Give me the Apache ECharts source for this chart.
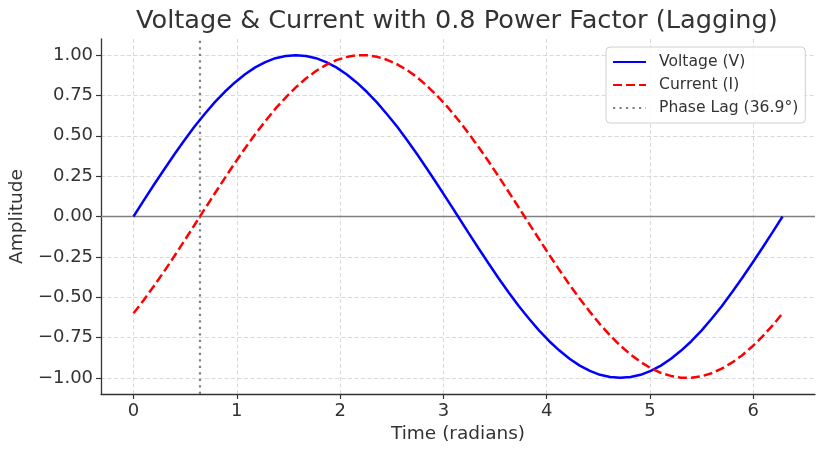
<!DOCTYPE html>
<html><head><meta charset="utf-8">
<script src="https://cdn.jsdelivr.net/npm/echarts@6/dist/echarts.min.js"></script>
<style>html,body{margin:0;padding:0;background:#fff}#c{width:832px;height:450px}</style>
</head><body><div id="c"></div>
<script>
// Time samples (radians) read along the x axis
const timeRad = [0, 0.098, 0.196, 0.295, 0.393, 0.491, 0.589, 0.687, 0.785, 0.884, 0.982, 1.080, 1.178, 1.276, 1.374, 1.473, 1.571, 1.669, 1.767, 1.865, 1.963, 2.062, 2.160, 2.258, 2.356, 2.454, 2.553, 2.651, 2.749, 2.847, 2.945, 3.043, 3.142, 3.240, 3.338, 3.436, 3.534, 3.632, 3.731, 3.829, 3.927, 4.025, 4.123, 4.221, 4.320, 4.418, 4.516, 4.614, 4.712, 4.811, 4.909, 5.007, 5.105, 5.203, 5.301, 5.400, 5.498, 5.596, 5.694, 5.792, 5.890, 5.989, 6.087, 6.185, 6.283];
const voltage = [0, 0.098, 0.195, 0.290, 0.383, 0.471, 0.556, 0.634, 0.707, 0.773, 0.831, 0.882, 0.924, 0.957, 0.981, 0.995, 1.000, 0.995, 0.981, 0.957, 0.924, 0.882, 0.831, 0.773, 0.707, 0.634, 0.556, 0.471, 0.383, 0.290, 0.195, 0.098, 0, -0.098, -0.195, -0.290, -0.383, -0.471, -0.556, -0.634, -0.707, -0.773, -0.831, -0.882, -0.924, -0.957, -0.981, -0.995, -1.000, -0.995, -0.981, -0.957, -0.924, -0.882, -0.831, -0.773, -0.707, -0.634, -0.556, -0.471, -0.383, -0.290, -0.195, -0.098, 0];
const current = [-0.600, -0.519, -0.432, -0.342, -0.248, -0.152, -0.054, 0.044, 0.141, 0.238, 0.332, 0.423, 0.510, 0.591, 0.668, 0.737, 0.800, 0.855, 0.902, 0.940, 0.969, 0.988, 0.999, 0.999, 0.990, 0.971, 0.943, 0.906, 0.861, 0.806, 0.745, 0.676, 0.600, 0.519, 0.432, 0.342, 0.248, 0.152, 0.054, -0.044, -0.141, -0.238, -0.332, -0.423, -0.510, -0.591, -0.668, -0.737, -0.800, -0.855, -0.902, -0.940, -0.969, -0.988, -0.999, -0.999, -0.990, -0.971, -0.943, -0.906, -0.861, -0.806, -0.745, -0.676, -0.600];
const phaseLagX = [0.6435, 0.6435];
const phaseLagY = [-1.1, 1.1];
const xTicks = [0, 1, 2, 3, 4, 5, 6];
const yTicks = [-1, -0.75, -0.5, -0.25, 0, 0.25, 0.5, 0.75, 1];
const seriesNames = ['Voltage (V)', 'Current (I)', 'Phase Lag (36.9°)'];
const titleText = 'Voltage & Current with 0.8 Power Factor (Lagging)';
const xName = 'Time (radians)';
const yName = 'Amplitude';

const FONT = 'DejaVu Sans';
const TXT = '#333';
const zip = (a, b) => a.map((v, i) => [v, b[i]]);

const chart = echarts.init(document.getElementById('c'), null, {renderer: 'canvas'});
chart.setOption({
  animation: false,
  backgroundColor: '#fff',
  title: {
    text: titleText, left: 136, top: 8, padding: 0,
    textStyle: {fontFamily: FONT, fontSize: 25.6, fontWeight: 'normal', color: TXT}
  },
  grid: {left: 100, right: 17, top: 39, bottom: 56, containLabel: false},
  legend: {
    orient: 'vertical', left: 606, top: 47,
    data: seriesNames,
    itemWidth: 33, itemHeight: 14, itemGap: 7,
    padding: [7, 7, 7, 6],
    itemStyle: {opacity: 0},
    backgroundColor: 'rgba(255,255,255,0.85)', borderColor: '#d0d0d0', borderWidth: 1, borderRadius: 4,
    textStyle: {fontFamily: FONT, fontSize: 15.6, color: TXT, padding: [0, 0, 0, 8]}
  },
  xAxis: {
    type: 'value', min: -0.314, max: 6.597,
    name: xName, nameLocation: 'middle', nameGap: 30,
    nameTextStyle: {fontFamily: FONT, fontSize: 18.5, color: TXT},
    axisLine: {show: true, onZero: false, lineStyle: {color: TXT, width: 1.3}},
    axisTick: {show: true, length: 5, customValues: xTicks, lineStyle: {color: TXT, width: 1.2}},
    axisLabel: {customValues: xTicks, margin: 8, fontFamily: FONT, fontSize: 18, color: TXT,
      formatter: v => String(v)},
    splitLine: {show: true, lineStyle: {color: '#cfcfcf', width: 0.8, type: [4, 2.5]}}
  },
  yAxis: {
    type: 'value', min: -1.1, max: 1.1,
    name: yName, nameLocation: 'middle', nameGap: 72, nameRotate: 90,
    nameTextStyle: {fontFamily: FONT, fontSize: 18.5, color: TXT},
    axisLine: {show: true, onZero: false, lineStyle: {color: TXT, width: 1.3}},
    axisTick: {show: true, length: 5, customValues: yTicks, lineStyle: {color: TXT, width: 1.2}},
    axisLabel: {customValues: yTicks, margin: 8, fontFamily: FONT, fontSize: 18, color: TXT,
      formatter: v => (v < 0 ? '\u2212' : '') + Math.abs(v).toFixed(2)},
    splitLine: {show: true, lineStyle: {color: '#cfcfcf', width: 0.8, type: [4, 2.5]}}
  },
  series: [
    {
      name: seriesNames[0], type: 'line', data: zip(timeRad, voltage), smooth: false,
      symbol: 'none', color: '#0000ff', lineStyle: {color: '#0000ff', width: 2.5}, z: 3,
      markLine: {
        silent: true, symbol: 'none', label: {show: false},
        lineStyle: {color: '#808080', type: 'solid', width: 1.3},
        data: [{yAxis: 0}], z: 2
      }
    },
    {
      name: seriesNames[1], type: 'line', data: zip(timeRad, current), smooth: false,
      symbol: 'none', color: '#ff0000', lineStyle: {color: '#ff0000', width: 2.5, type: [9, 4]}, z: 3
    },
    {
      name: seriesNames[2], type: 'line', data: zip(phaseLagX, phaseLagY),
      symbol: 'none', color: '#808080', lineStyle: {color: '#808080', width: 2.2, type: [2.2, 4.3]}, z: 2
    }
  ]
});
</script>
</body></html>
